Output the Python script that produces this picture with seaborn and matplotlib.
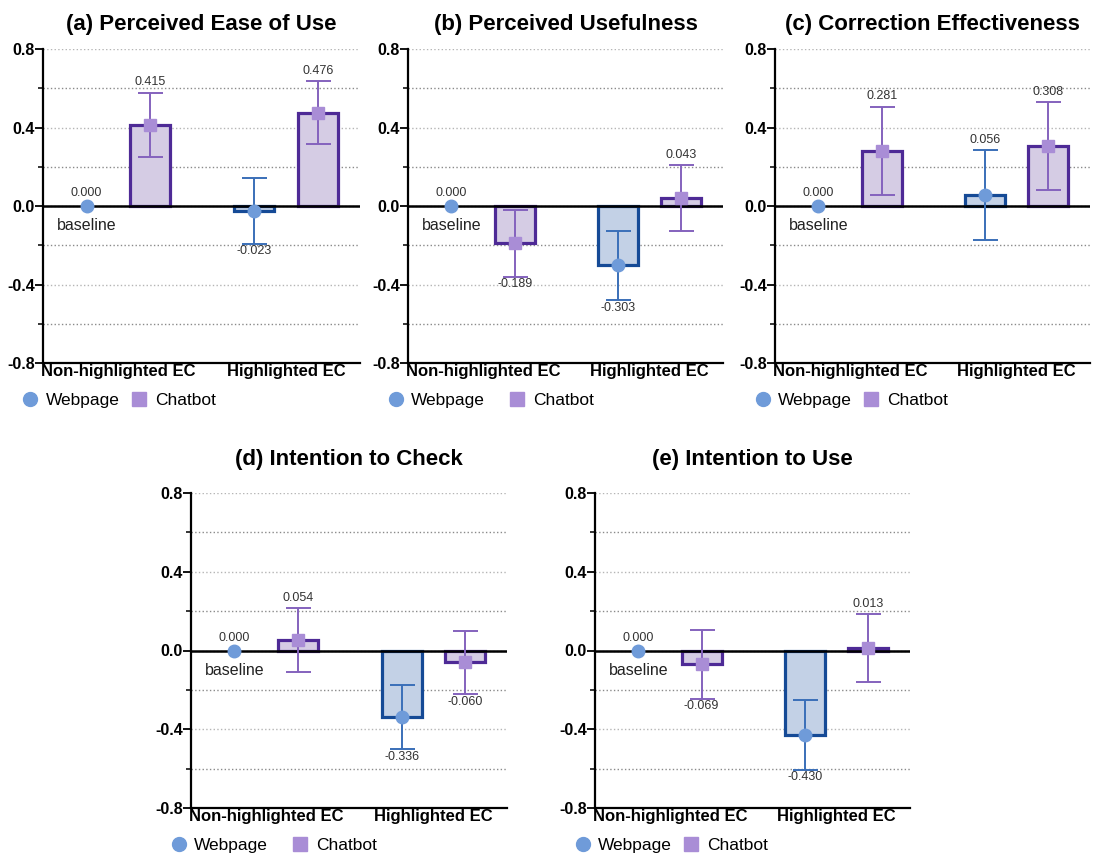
import numpy as np
import pandas as pd
import matplotlib
matplotlib.use("Agg")
import matplotlib.pyplot as plt
from matplotlib.lines import Line2D
from matplotlib.ticker import MultipleLocator
import seaborn as sns

sns.set_style("white")
plt.rcParams['font.family'] = ['Liberation Sans', 'DejaVu Sans']
plt.rcParams['text.color'] = 'black'
plt.rcParams['xtick.color'] = 'black'
plt.rcParams['ytick.color'] = 'black'

# data
conditions = ["Non-highlighted EC", "Highlighted EC"]
interfaces = ["Webpage", "Chatbot"]
titles = ["(a) Perceived Ease of Use", "(b) Perceived Usefulness",
          "(c) Correction Effectiveness", "(d) Intention to Check",
          "(e) Intention to Use"]
# order: [web non-hl, chat non-hl, web hl, chat hl]
means = [
    [0.000, 0.415, -0.023, 0.476],
    [0.000, -0.189, -0.303, 0.043],
    [0.000, 0.281, 0.056, 0.308],
    [0.000, 0.054, -0.336, -0.060],
    [0.000, -0.069, -0.430, 0.013],
]
lower = [
    [None, 0.251, -0.192, 0.314],
    [None, -0.360, -0.481, -0.127],
    [None, 0.056, -0.175, 0.083],
    [None, -0.110, -0.502, -0.222],
    [None, -0.244, -0.605, -0.158],
]
upper = [
    [None, 0.578, 0.141, 0.636],
    [None, -0.019, -0.129, 0.210],
    [None, 0.507, 0.286, 0.529],
    [None, 0.215, -0.173, 0.098],
    [None, 0.103, -0.253, 0.183],
]

fill = {"Webpage": "#bdd0ec", "Chatbot": "#d4c8e8"}
edge = {"Webpage": "#154a96", "Chatbot": "#4e2a96"}
errc = {"Webpage": "#3a6fb8", "Chatbot": "#8462bd"}
mk = {"Webpage": "#6f9bd9", "Chatbot": "#a98dd6"}
shape = {"Webpage": "o", "Chatbot": "s"}

fig = plt.figure(figsize=(10.95, 8.57), dpi=100)
W, H = 1095, 857
boxes = [(43, 49, 317, 314), (408, 49, 315, 314), (775, 49, 315, 314),
         (191, 493, 316, 315), (595, 493, 315, 315)]
col_space = [0.6, 1.35, 0.6, 1.35, 0.6]

for i, (x0, y0, w, h) in enumerate(boxes):
    ax = fig.add_axes([x0 / W, 1 - (y0 + h) / H, w / W, h / H])
    rows = []
    for j, m in enumerate(means[i]):
        rows.append({"condition": conditions[j // 2], "interface": interfaces[j % 2], "value": m})
    df = pd.DataFrame(rows)
    sns.barplot(data=df, x="condition", y="value", hue="interface", order=conditions,
                hue_order=interfaces, palette=fill, width=0.76, gap=0.37,
                errorbar=None, legend=False, ax=ax, linewidth=2.3, zorder=2)
    for k, iface in enumerate(interfaces):
        for c, bar in enumerate(ax.containers[k]):
            bar.set_edgecolor(edge[iface])
            idx = c * 2 + k
            xc = bar.get_x() + bar.get_width() / 2
            m = means[i][idx]
            lo, hi = lower[i][idx], upper[i][idx]
            if lo is not None:
                ax.errorbar(xc, m, yerr=[[m - lo], [hi - m]], color=errc[iface],
                            elinewidth=1.4, capsize=9, capthick=1.4, zorder=4, fmt="none")
            ax.plot(xc, m, marker=shape[iface], color=mk[iface], ms=9, mec=mk[iface], zorder=5)
            if lo is None:
                # baseline condition: no bar, just the dot
                bar.set_visible(False)
                ax.annotate(f"{m:.3f}", (xc, m), xytext=(0, 5), textcoords="offset points",
                            ha="center", va="bottom", fontsize=9, color="#333333")
                ax.text(xc, -0.10, "baseline", ha="center", va="center", fontsize=11.5, color="#222222")
            elif m >= 0:
                ax.annotate(f"{m:.3f}", (xc, hi), xytext=(0, 3), textcoords="offset points",
                            ha="center", va="bottom", fontsize=9, color="#333333")
            else:
                ax.annotate(f"{m:.3f}", (xc, lo), xytext=(0, -1), textcoords="offset points",
                            ha="center", va="top", fontsize=9, color="#333333")

    ax.axhline(0, color="black", lw=1.8, zorder=3)
    ax.set_xlim(-0.45, 1.44)
    ax.set_ylim(-0.8, 0.8)
    ax.yaxis.set_major_locator(MultipleLocator(0.4))
    ax.yaxis.set_minor_locator(MultipleLocator(0.2))
    ax.set_yticklabels([f"{t:.1f}" for t in ax.get_yticks()], fontweight="bold", fontsize=11.5)
    ax.yaxis.grid(True, which="major", linestyle=":", color="#b5b5b5", lw=1)
    ax.yaxis.grid(True, which="minor", linestyle=":", color="#8a8a8a", lw=1)
    ax.set_axisbelow(True)
    ax.tick_params(axis="y", which="major", left=True, length=5.5, width=1.3, pad=0.5)
    ax.tick_params(axis="y", which="minor", left=True, length=3.5, width=1.1)
    ax.tick_params(axis="x", length=0, pad=1)
    for lab in ax.get_xticklabels():
        lab.set_fontweight("bold")
        lab.set_fontsize(12)
    ax.set_xlabel("")
    ax.set_ylabel("")
    sns.despine(ax=ax)
    ax.spines["left"].set_linewidth(1.6)
    ax.spines["bottom"].set_linewidth(1.6)
    ax.spines["left"].set_color("black")
    ax.spines["bottom"].set_color("black")
    ax.set_title(titles[i], fontsize=16, fontweight="bold", pad=14 if i < 3 else 20)

    handles = [Line2D([], [], marker="o", ls="", color=mk["Webpage"], ms=10),
               Line2D([], [], marker="s", ls="", color=mk["Chatbot"], ms=10)]
    ax.legend(handles, interfaces, ncol=2, frameon=False, fontsize=12.5,
              loc="center left", bbox_to_anchor=(-0.089, -0.118),
              handlelength=1, handletextpad=0.4, columnspacing=col_space[i], borderaxespad=0)

fig.savefig("out.png", dpi=100)
